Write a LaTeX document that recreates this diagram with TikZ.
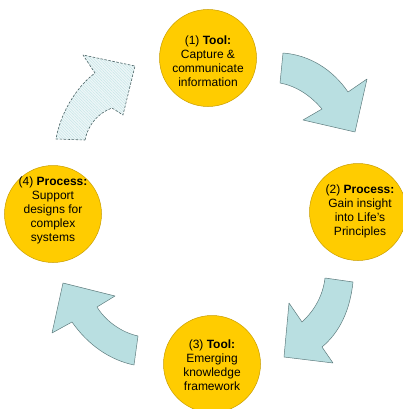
\documentclass[tikz,border=0pt]{standalone}
\usepackage{fontspec}
\setmainfont{Liberation Sans}
\usetikzlibrary{patterns.meta}
\definecolor{gold}{HTML}{FFCC00}
\definecolor{goldedge}{HTML}{C99E00}
\definecolor{aqua}{HTML}{B9DFE1}
\definecolor{aquaedge}{HTML}{5E7C7E}
\definecolor{hatch}{HTML}{C6E5E7}
\tikzset{
  stage/.style={circle, fill=gold, draw=goldedge, line width=0.5pt,
    minimum size=97pt, inner sep=0pt},
  caption/.style={align=center, inner sep=0pt,
    font=\fontsize{12}{14}\selectfont},
  flow/.style={fill=aqua, draw=aquaedge, line width=0.5pt, line join=round},
  pending/.style={draw=aquaedge!80!black, line width=0.6pt,
    dash pattern=on 2.5pt off 1.5pt, line join=round,
    preaction={fill=hatch!30},
    pattern={Lines[angle=-45,distance=2pt,line width=0.5pt]},
    pattern color=hatch}
}
\begin{document}
\begin{tikzpicture}[x=1pt,y=-1pt]
\useasboundingbox (0,0) rectangle (402,409);

% the four stages of the cycle
\node[stage] (s1) at (208,58)  {};
\node[stage] (s2) at (358,212) {};
\node[stage] (s3) at (212,364) {};
\node[stage] (s4) at (53,214)  {};

\node[caption] (t1) at (208,61)  {(1) \textbf{Tool:}\\Capture \&\\communicate\\information};
\node[caption] (t2) at (360,211) {(2) \textbf{Process:}\\Gain insight\\into Life's\\Principles};
\node[caption] (t3) at (212,365) {(3) \textbf{Tool:}\\Emerging\\knowledge\\framework};
\node[caption] (t4) at (53,210)  {(4) \textbf{Process:}\\Support\\designs for\\complex\\systems};

% curved block arrows between the stages
\draw[flow] (283,53) .. controls (310,55) and (333,70) .. (348,92)
  -- (367,79) -- (355,132) -- (303,120) -- (322,109)
  .. controls (310,95) and (296,86) .. (280,83) -- cycle;

\draw[flow] (353,282) .. controls (350,310) and (340,332) .. (322,347)
  -- (333,363) -- (284,357) -- (289,303) -- (302,322)
  .. controls (315,310) and (323,295) .. (325,278) -- cycle;

\draw[flow] (138,336) .. controls (120,332) and (105,320) .. (97,307)
  -- (115,296) -- (63,283) -- (52,333) -- (72,322)
  .. controls (88,345) and (110,360) .. (134,365) -- cycle;

% the step that closes the loop, still open
\draw[pending] (85,140) .. controls (88,125) and (98,113) .. (112,108)
  -- (123,115) -- (135,66) -- (83,55) -- (95,73)
  .. controls (75,88) and (60,115) .. (56,139) -- cycle;
\end{tikzpicture}
\end{document}
